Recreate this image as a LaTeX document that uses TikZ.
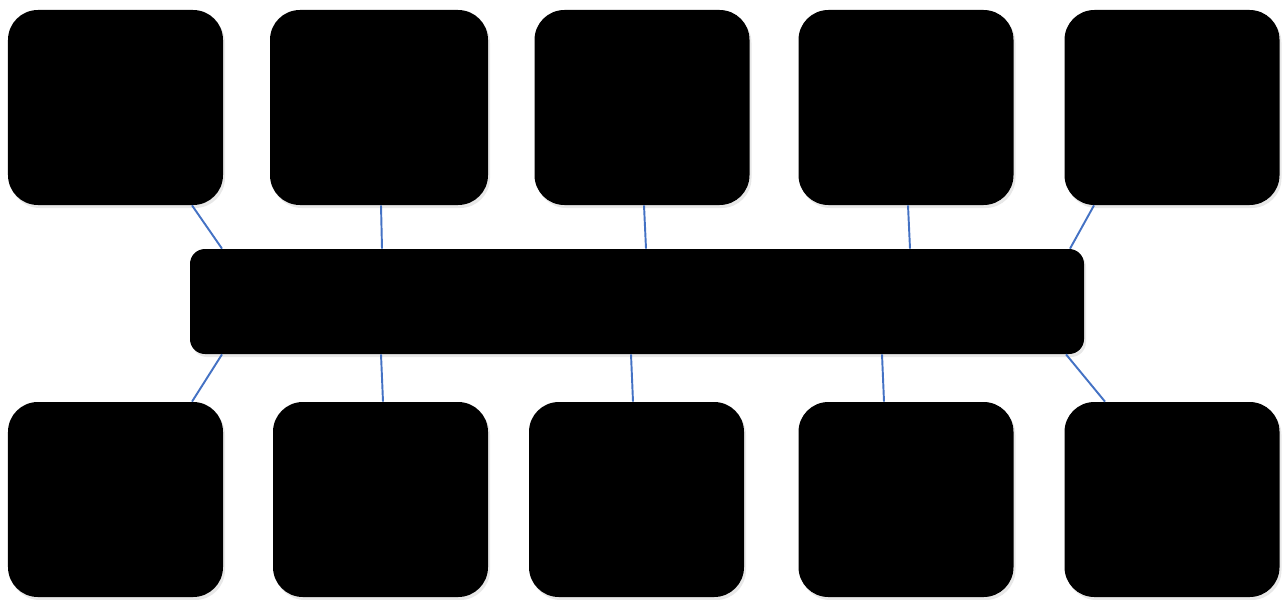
\documentclass[tikz,border=0pt]{standalone}
\usepackage{tikz}
\usetikzlibrary{positioning,shadows}
\usepackage{xcolor}
\definecolor{linkblue}{HTML}{4472C4}

\begin{document}
\begin{tikzpicture}[
    boxnode/.style={fill=black, rounded corners=17pt, minimum width=4.3cm, minimum height=3.9cm, inner sep=0pt,
        drop shadow={opacity=0.18, shadow xshift=0.04cm, shadow yshift=-0.06cm}},
    barnode/.style={fill=black, rounded corners=8.5pt, minimum width=17.88cm, minimum height=2.1cm, inner sep=0pt,
        drop shadow={opacity=0.18, shadow xshift=0.04cm, shadow yshift=-0.06cm}},
    link/.style={draw=linkblue, line width=1.1pt}
]
    % Cornice della figura
    \useasboundingbox (0,0) rectangle (25.7,-11.98);

    % Riga superiore
    \node[boxnode] (t1) at (2.31, -2.15) {};
    \node[boxnode, minimum width=4.36cm] (t2) at (7.58, -2.15) {};
    \node[boxnode] (t3) at (12.84, -2.15) {};
    \node[boxnode] (t4) at (18.12, -2.15) {};
    \node[boxnode] (t5) at (23.44, -2.15) {};

    % Barra centrale
    \node[barnode] (bar) at (12.74, -6.03) {};

    % Riga inferiore
    \node[boxnode] (b1) at (2.31, -9.99) {};
    \node[boxnode] (b2) at (7.61, -9.99) {};
    \node[boxnode] (b3) at (12.73, -9.99) {};
    \node[boxnode] (b4) at (18.12, -9.99) {};
    \node[boxnode] (b5) at (23.44, -9.99) {};

    % Collegamenti riga superiore -> barra
    \draw[link] ([xshift=1.53cm]t1.south) -- ([xshift=-8.3cm]bar.north);
    \draw[link] ([xshift=0.04cm]t2.south) -- ([xshift=-5.1cm]bar.north);
    \draw[link] ([xshift=0.04cm]t3.south) -- ([xshift=0.18cm]bar.north);
    \draw[link] ([xshift=0.04cm]t4.south) -- ([xshift=5.46cm]bar.north);
    \draw[link] ([xshift=-1.56cm]t5.south) -- ([xshift=8.66cm]bar.north);

    % Collegamenti barra -> riga inferiore
    \draw[link] ([xshift=-8.3cm]bar.south) -- ([xshift=1.53cm]b1.north);
    \draw[link] ([xshift=-5.12cm]bar.south) -- ([xshift=0.05cm]b2.north);
    \draw[link] ([xshift=-0.12cm]bar.south) -- ([xshift=-0.07cm]b3.north);
    \draw[link] ([xshift=4.9cm]bar.south) -- ([xshift=-0.44cm]b4.north);
    \draw[link] ([xshift=8.58cm]bar.south) -- ([xshift=-1.34cm]b5.north);

\end{tikzpicture}
\end{document}
